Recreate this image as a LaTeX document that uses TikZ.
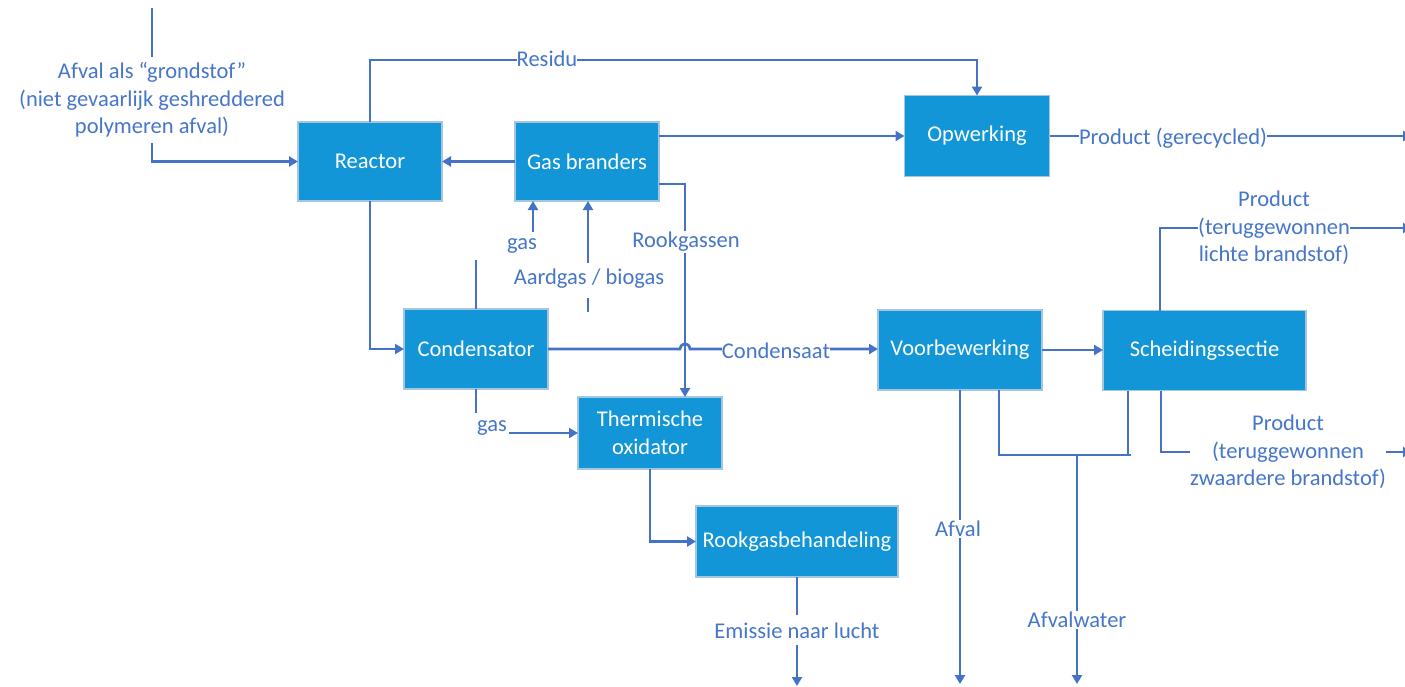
\documentclass[tikz,border=0pt]{standalone}
\usepackage{fontspec}
\setmainfont{Carlito}
\usetikzlibrary{arrows.meta}
\definecolor{boxfill}{RGB}{18,150,215}
\definecolor{boxedge}{RGB}{165,198,225}
\definecolor{linecol}{RGB}{68,114,196}
\definecolor{labcol}{RGB}{70,118,200}
\begin{document}
\begin{tikzpicture}[x=1pt,y=-1pt,
  every node/.style={font=\fontsize{22.5}{27.5}\selectfont},
  procbox/.style={draw=boxedge,line width=1.5pt,fill=boxfill,text=white,inner sep=0pt,outer sep=0pt,align=center},
  lab/.style={text=labcol,fill=white,inner sep=1pt,align=center},
  flow/.style={draw=linecol,line width=2.7pt},
  arr/.style={flow,-{Triangle[length=9pt,width=10pt]}}
]
\useasboundingbox (0,0) rectangle (1405,686);
% boxes
\node[procbox,minimum width=144pt,minimum height=79pt] (reactor) at (370,161.5) {Reactor};
\node[procbox,minimum width=144pt,minimum height=79pt] (gasb) at (587,161.5) {Gas branders};
\node[procbox,minimum width=145pt,minimum height=81pt] (opw) at (977,136) {Opwerking};
\node[procbox,minimum width=144pt,minimum height=80pt] (cond) at (476,349) {Condensator};
\node[procbox,minimum width=144pt,minimum height=72pt] (therm) at (650,433) {Thermische\\oxidator};
\node[procbox,minimum width=202pt,minimum height=71pt] (rook) at (797,541.5) {Rookgasbehandeling};
\node[procbox,minimum width=164pt,minimum height=80pt] (voor) at (960,350) {Voorbewerking};
\node[procbox,minimum width=203pt,minimum height=80pt] (scheid) at (1204.5,350.5) {Scheidingssectie};
% coordinates
\coordinate (in0) at (152,8);
\coordinate (in1) at (152,57);
\coordinate (in2) at (152,143);
\coordinate (res) at (370,60);
\coordinate (rk1) at (685,184);
\coordinate (cu) at (476,260);
\coordinate (gu) at (533,232);
\coordinate (ag) at (588,263);
\coordinate (ag1) at (588,298);
\coordinate (ag2) at (588,312);
\coordinate (hop1) at (680,349);
\coordinate (hop2) at (690,349);
\coordinate (cd) at (476,413);
\coordinate (gl) at (509,433);
\coordinate (em1) at (797,615);
\coordinate (em2) at (797,645);
\coordinate (em3) at (797,686);
\coordinate (af) at (960,684);
\coordinate (aw1) at (999,455);
\coordinate (aw2) at (1131,455);
\coordinate (sw) at (1128,455);
\coordinate (awd) at (1077,684);
\coordinate (pl) at (1160,228);
\coordinate (ple) at (1412,228);
\coordinate (ph) at (1161,452);
\coordinate (phe) at (1412,452);
\coordinate (pge) at (1412,136);
% connectors
\draw[flow] (in0) -- (in1);
\draw[arr] (in2) |- (reactor.west);
\draw[arr] (reactor.north) -- (res) -| (opw.north);
\draw[arr] (gasb.west) -- (reactor.east);
\draw[arr] (gasb.east |- opw.west) -- (opw.west);
\draw[arr] (opw.east) -- (pge);
\draw[arr] (gasb.east |- rk1) -- (rk1) -- (rk1 |- therm.north);
\draw[flow] (cond.north) -- (cu);
\draw[arr] (gu) -- (gu |- gasb.south);
\draw[arr] (ag) -- (ag |- gasb.south);
\draw[flow] (ag1) -- (ag2);
\draw[arr] (reactor.south) |- (cond.west);
\draw[arr] (cond.east) -- (hop1) .. controls (681,342) and (689,342) .. (hop2) -- (voor.west |- cond.east);
\draw[flow] (cond.south) -- (cd);
\draw[arr] (gl) -- (gl -| therm.west);
\draw[arr] (therm.south) |- (rook.west);
\draw[flow] (rook.south) -- (em1);
\draw[arr] (em2) -- (em3);
\draw[arr] (voor.east) -- (scheid.west |- voor.east);
\draw[arr] (voor.south -| af) -- (af);
\draw[flow] (voor.south -| aw1) -- (aw1) -- (aw2);
\draw[flow] (scheid.south -| sw) -- (sw);
\draw[arr] (awd |- aw1) -- (awd);
\draw[arr] (scheid.north -| pl) -- (pl) -- (ple);
\draw[arr] (scheid.south -| ph) -- (ph) -- (phe);
% labels
\node[lab,fill=none] (lin) at (152,100) {Afval als “grondstof”\\(niet gevaarlijk geshreddered\\polymeren afval)};
\node[lab,inner sep=0pt] (lres) at (547,59) {Residu};
\node[lab,inner sep=0pt] (lpg) at (1173,138) {Product (gerecycled)};
\node[lab] (lrk) at (686,242) {Rookgassen};
\node[lab,fill=none] (lgu) at (522,246) {gas};
\node[lab,fill=none] (lag) at (589,279) {Aardgas / biogas};
\node[lab,inner sep=0pt] (lcd) at (776,351) {Condensaat};
\node[lab,fill=none] (lgl) at (492,428) {gas};
\node[lab,fill=none] (lem) at (797,631) {Emissie naar lucht};
\node[lab] (laf) at (958,529) {Afval};
\node[lab] (law) at (1077,620) {Afvalwater};
\node[lab,inner sep=0pt] (lpl) at (1274,228) {Product\\(teruggewonnen\\lichte brandstof)};
\node[lab,inner sep=0pt] (lph) at (1288,452) {Product\\(teruggewonnen\\zwaardere brandstof)};
\end{tikzpicture}
\end{document}
